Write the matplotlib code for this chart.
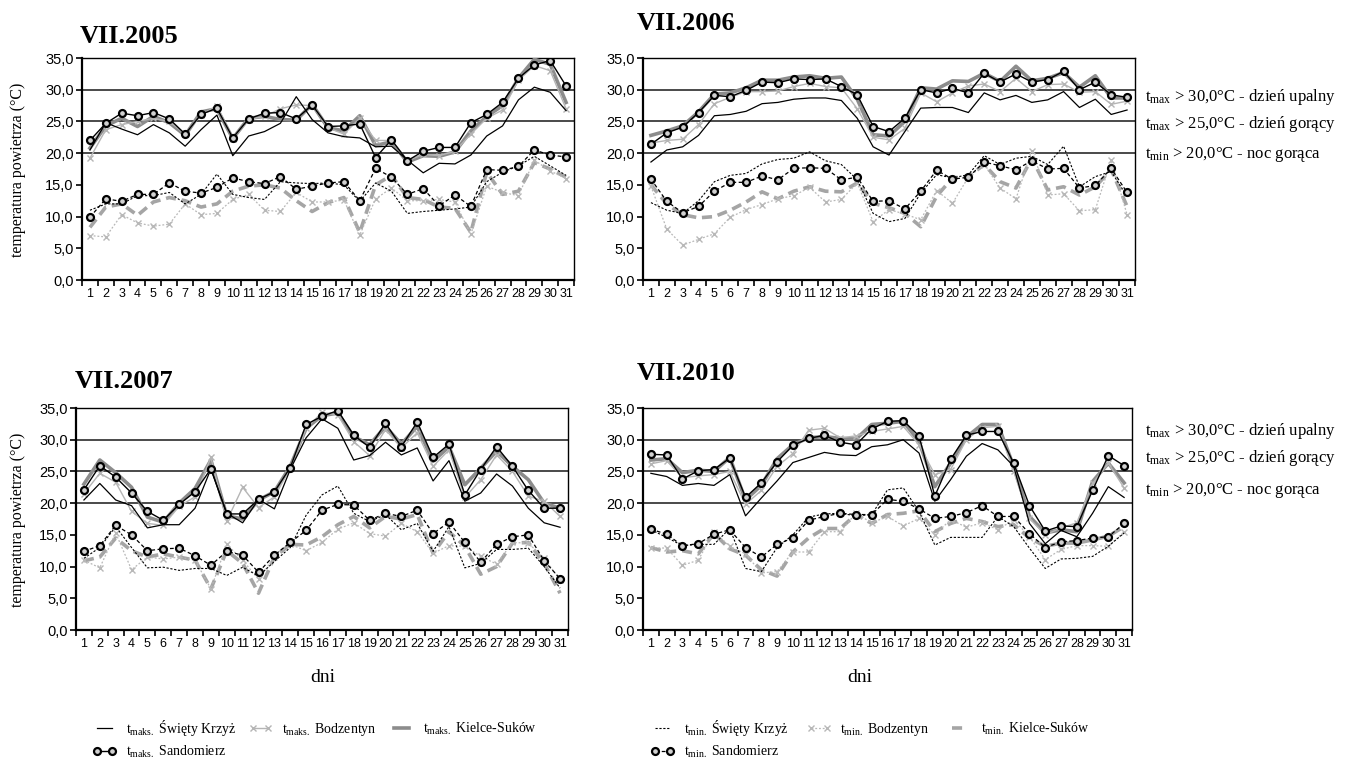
import matplotlib
matplotlib.use('Agg')
import matplotlib.pyplot as plt
from matplotlib.ticker import FuncFormatter
import numpy as np

plt.rcParams['font.family'] = 'Liberation Serif'

days = list(range(1, 32))

# VII.2005
tmax_sk_2005 = [20.5, 24.8, 23.8, 22.9, 24.5, 23.2, 21.1, 23.7, 26.0, 19.6, 22.7, 23.4, 24.7, 28.9, 25.3, 23.2,
                22.6, 22.4, 21.0, 21.1, 18.9, 16.9, 18.4, 18.3, 19.7, 22.7, 24.3, 28.4, 30.4, 29.6, 26.7]
tmax_bo_2005 = [19.2, 23.7, 24.5, 25.0, 25.5, 25.0, 23.0, 26.0, 27.5, 22.3, 25.3, 25.8, 27.0, 27.6, 27.5, 24.0,
                23.0, 25.5, 22.0, 22.0, 18.8, 19.8, 19.6, 20.3, 23.0, 25.5, 26.8, 31.5, 33.8, 33.0, 27.0]
tmax_ks_2005 = [20.8, 24.3, 25.5, 24.2, 25.8, 24.8, 22.8, 26.5, 27.0, 22.3, 25.5, 25.8, 25.3, 25.2, 27.7, 24.0,
                23.5, 25.9, 21.2, 21.8, 18.6, 19.6, 19.5, 20.2, 23.5, 25.8, 27.5, 31.8, 34.8, 34.0, 28.0]
tmax_sa_2005 = [22.0, 24.7, 26.3, 25.9, 26.4, 25.4, 23.0, 26.1, 27.1, 22.4, 25.4, 26.3, 26.4, 25.4, 27.6, 24.2,
                24.3, 24.6, 19.3, 22.1, 18.8, 20.3, 20.9, 20.9, 24.8, 26.1, 28.0, 31.8, 33.9, 34.6, 30.6]
tmin_sk_2005 = [11.0, 12.0, 12.0, 13.3, 13.3, 13.8, 12.0, 13.5, 16.7, 13.5, 13.0, 12.7, 15.5, 15.3, 15.2, 15.3,
                15.0, 12.4, 15.3, 14.0, 10.5, 10.8, 11.0, 11.2, 11.5, 15.5, 17.0, 18.0, 19.5, 18.0, 16.5]
tmin_bo_2005 = [7.0, 6.8, 10.3, 9.0, 8.5, 8.8, 12.0, 10.3, 10.5, 12.7, 13.5, 11.0, 10.8, 13.8, 12.3, 12.3,
                12.6, 7.1, 12.8, 14.5, 12.5, 12.5, 12.7, 12.3, 7.2, 14.8, 13.8, 13.3, 18.9, 17.2, 16.0]
tmin_ks_2005 = [8.3, 11.5, 12.0, 10.2, 12.3, 13.0, 12.5, 11.5, 12.0, 14.0, 14.8, 15.0, 14.5, 12.5, 10.8, 12.2,
                13.0, 7.5, 15.0, 16.5, 13.0, 12.7, 11.5, 11.3, 7.5, 17.0, 13.5, 14.0, 18.5, 17.5, 16.2]
tmin_sa_2005 = [9.9, 12.8, 12.4, 13.5, 13.5, 15.3, 14.0, 13.7, 14.6, 16.1, 15.5, 15.2, 16.3, 14.3, 14.8, 15.3,
                15.5, 12.5, 17.6, 16.2, 13.5, 14.4, 11.7, 13.4, 11.6, 17.4, 17.3, 17.9, 20.5, 19.7, 19.4]

# VII.2006
tmax_sk_2006 = [18.6, 20.5, 21.0, 22.8, 25.9, 26.1, 26.6, 27.8, 28.0, 28.5, 28.7, 28.7, 28.3, 25.5, 21.0, 19.7,
                23.4, 27.1, 27.2, 27.2, 26.4, 29.5, 28.4, 29.1, 28.0, 28.4, 29.7, 27.2, 28.5, 26.1, 26.8]
tmax_bo_2006 = [21.6, 22.0, 22.2, 24.5, 27.8, 28.8, 29.7, 29.7, 29.8, 30.5, 31.0, 30.5, 30.3, 27.0, 22.5, 22.1,
                23.9, 29.5, 28.1, 29.5, 30.6, 30.9, 29.7, 31.8, 29.7, 30.8, 30.9, 29.6, 29.7, 27.7, 28.2]
tmax_ks_2006 = [22.8, 23.5, 24.3, 26.5, 29.3, 29.5, 30.3, 31.5, 31.5, 32.0, 32.2, 31.8, 32.0, 28.5, 22.9, 22.7,
                25.0, 30.3, 30.1, 31.4, 31.3, 32.6, 31.3, 33.7, 31.4, 31.8, 32.7, 30.4, 32.2, 28.7, 28.7]
tmax_sa_2006 = [21.4, 23.2, 24.1, 26.4, 29.1, 28.9, 29.9, 31.2, 31.1, 31.7, 31.6, 31.7, 30.5, 29.2, 24.2, 23.4,
                25.5, 30.0, 29.5, 30.2, 29.5, 32.6, 31.2, 32.5, 31.2, 31.6, 32.9, 30.0, 31.2, 29.2, 28.8]
tmin_sk_2006 = [12.2, 11.0, 10.5, 12.5, 15.5, 16.5, 16.8, 18.3, 19.0, 19.2, 20.2, 18.8, 18.2, 15.8, 10.5, 9.2,
                9.7, 13.7, 16.6, 16.1, 16.6, 19.6, 18.2, 19.2, 19.5, 18.2, 21.1, 14.7, 16.3, 17.1, 13.2]
tmin_bo_2006 = [14.8, 8.0, 5.5, 6.4, 7.3, 9.9, 11.1, 11.9, 12.8, 13.3, 14.6, 12.3, 12.7, 15.3, 9.2, 11.1,
                10.4, 9.5, 14.1, 12.1, 16.2, 18.2, 14.5, 12.8, 20.4, 13.4, 13.6, 10.9, 11.1, 18.9, 10.3]
tmin_ks_2006 = [15.0, 12.0, 10.3, 9.8, 10.0, 11.0, 12.3, 13.9, 12.8, 14.0, 14.7, 14.0, 13.9, 15.3, 12.1, 11.4,
                10.5, 8.4, 13.2, 16.1, 16.3, 18.2, 15.5, 14.5, 19.2, 14.2, 14.7, 13.4, 14.7, 17.4, 11.6]
tmin_sa_2006 = [15.9, 12.4, 10.6, 11.6, 14.0, 15.4, 15.4, 16.4, 15.8, 17.6, 17.7, 17.6, 15.8, 16.2, 12.4, 12.5,
                11.2, 14.0, 17.3, 15.9, 16.2, 18.6, 18.0, 17.4, 18.8, 17.5, 17.6, 14.5, 14.9, 17.6, 13.8]

# VII.2007
tmax_sk_2007 = [20.5, 23.1, 20.5, 19.6, 16.1, 16.6, 16.6, 19.2, 25.4, 18.4, 16.9, 20.6, 19.1, 25.3, 30.3, 33.3,
                31.8, 26.8, 27.5, 29.6, 27.6, 28.7, 23.5, 26.7, 20.3, 21.6, 24.6, 22.7, 19.2, 16.9, 16.2]
tmax_bo_2007 = [21.5, 24.7, 23.3, 18.7, 16.8, 16.5, 19.5, 21.0, 27.2, 17.2, 22.5, 19.3, 21.0, 25.5, 31.8, 34.3,
                33.9, 29.7, 27.5, 31.6, 28.7, 31.1, 25.8, 28.4, 20.9, 23.7, 27.6, 25.0, 21.1, 20.3, 17.9]
tmax_ks_2007 = [23.0, 26.8, 24.8, 22.5, 17.8, 17.0, 20.0, 22.3, 26.8, 18.0, 17.5, 20.5, 21.8, 25.8, 31.8, 33.8,
                34.2, 30.5, 29.2, 32.1, 29.3, 32.1, 26.6, 28.9, 22.9, 25.5, 28.2, 25.8, 23.7, 20.0, 19.2]
tmax_sa_2007 = [22.1, 25.9, 24.1, 21.6, 18.7, 17.3, 19.8, 21.8, 25.4, 18.3, 18.3, 20.6, 21.8, 25.6, 32.4, 33.7,
                34.6, 30.7, 28.8, 32.6, 28.9, 32.8, 27.2, 29.3, 21.3, 25.3, 28.9, 25.8, 22.0, 19.2, 19.2]
tmin_sk_2007 = [11.3, 13.0, 16.3, 13.0, 9.8, 9.9, 9.4, 9.7, 9.7, 8.6, 9.9, 8.5, 10.8, 13.0, 18.1, 21.3,
                22.7, 18.4, 17.1, 18.2, 15.8, 16.8, 12.4, 16.3, 9.8, 10.5, 12.7, 12.7, 12.9, 10.0, 6.6]
tmin_bo_2007 = [11.0, 9.8, 15.3, 9.5, 11.5, 11.2, 11.5, 11.0, 6.5, 13.5, 11.0, 8.0, 11.5, 13.5, 12.5, 13.8,
                15.9, 16.9, 15.2, 14.8, 16.8, 15.5, 12.1, 13.3, 13.2, 11.6, 10.4, 13.8, 13.7, 11.3, 7.9]
tmin_ks_2007 = [10.9, 11.5, 14.5, 12.5, 11.5, 12.0, 11.5, 11.0, 6.5, 12.5, 10.5, 5.8, 11.5, 13.5, 13.4, 14.7,
                16.6, 17.9, 16.1, 17.9, 17.5, 18.2, 12.1, 15.5, 13.2, 8.8, 10.0, 13.7, 13.8, 10.5, 5.8]
tmin_sa_2007 = [12.4, 13.3, 16.5, 15.0, 12.5, 12.8, 12.9, 11.7, 10.2, 12.4, 11.8, 9.1, 11.8, 13.8, 15.7, 18.9,
                19.8, 19.7, 17.3, 18.4, 17.9, 18.9, 15.2, 17.0, 13.8, 10.7, 13.5, 14.7, 15.0, 10.9, 8.1]

# VII.2010
tmax_sk_2010 = [24.7, 24.2, 22.8, 23.1, 22.8, 24.5, 18.0, 20.8, 23.5, 26.4, 27.2, 28.0, 27.6, 27.5, 28.9, 29.2,
                30.0, 27.9, 20.3, 23.7, 27.4, 29.4, 28.4, 25.8, 16.8, 13.6, 15.7, 14.7, 18.4, 22.6, 20.9]
tmax_bo_2010 = [26.2, 26.7, 24.0, 24.3, 24.5, 25.0, 19.8, 22.0, 25.8, 27.8, 31.5, 31.8, 30.3, 30.6, 31.3, 31.7,
                32.1, 29.2, 24.5, 25.3, 30.0, 31.9, 32.1, 25.0, 17.6, 15.0, 16.1, 16.9, 23.1, 26.3, 22.4]
tmax_ks_2010 = [26.8, 27.0, 24.8, 25.2, 25.0, 27.2, 20.5, 22.8, 27.0, 29.2, 30.3, 30.5, 30.2, 30.1, 32.4, 32.6,
                32.9, 29.7, 22.6, 26.3, 30.4, 32.4, 32.4, 25.8, 17.9, 15.3, 15.8, 15.5, 23.4, 26.3, 23.2]
tmax_sa_2010 = [27.7, 27.6, 23.8, 25.1, 25.3, 27.1, 20.9, 23.2, 26.5, 29.1, 30.2, 30.7, 29.6, 29.2, 31.7, 32.9,
                33.0, 30.6, 21.1, 26.9, 30.7, 31.3, 31.3, 26.3, 19.6, 15.6, 16.4, 16.3, 22.0, 27.5, 25.9]
tmin_sk_2010 = [15.8, 14.6, 13.3, 13.5, 13.5, 16.0, 9.7, 9.2, 13.0, 15.0, 17.8, 18.3, 18.4, 18.0, 18.2, 22.1,
                22.4, 18.7, 13.4, 14.6, 14.6, 14.6, 17.9, 16.3, 12.9, 9.7, 11.2, 11.3, 11.6, 13.2, 15.3]
tmin_bo_2010 = [13.0, 12.9, 10.2, 11.0, 15.5, 13.2, 12.0, 9.0, 9.2, 12.3, 12.3, 15.5, 15.5, 18.4, 16.9, 17.9,
                16.4, 17.6, 15.0, 17.4, 16.2, 16.9, 15.8, 17.4, 14.7, 11.1, 12.7, 13.3, 13.3, 13.2, 15.5]
tmin_ks_2010 = [13.0, 12.3, 12.5, 12.0, 15.2, 12.8, 11.8, 9.5, 8.5, 12.3, 14.5, 16.0, 16.0, 18.2, 16.8, 18.2,
                18.4, 18.8, 15.5, 16.8, 17.6, 17.1, 16.3, 16.6, 14.5, 13.2, 13.7, 13.7, 14.2, 14.8, 16.3]
tmin_sa_2010 = [15.9, 15.1, 13.3, 13.6, 15.1, 15.8, 13.0, 11.5, 13.5, 14.5, 17.3, 17.9, 18.4, 18.2, 18.2, 20.6,
                20.3, 19.1, 17.6, 17.9, 18.5, 19.6, 17.9, 17.9, 15.2, 13.0, 13.9, 14.1, 14.5, 14.7, 16.8]

thresholds = [20, 25, 30]
threshold_labels = ['$\\mathregular{t_{max}}$ > 30,0°C - dzień upalny',
                    '$\\mathregular{t_{max}}$ > 25,0°C - dzień gorący',
                    '$\\mathregular{t_{min}}$ > 20,0°C - noc gorąca']

# line styles, in drawing order
styles = {
    'tmax_ks': dict(color='#8c8c8c', lw=2.6, label='$\\mathregular{t_{maks.}}$ Kielce-Suków'),
    'tmax_bo': dict(color='#b5b5b5', lw=1.0, marker='x', ms=4.5, mew=1.0,
                    label='$\\mathregular{t_{maks.}}$ Bodzentyn'),
    'tmax_sk': dict(color='black', lw=0.9, label='$\\mathregular{t_{maks.}}$ Święty Krzyż'),
    'tmax_sa': dict(color='black', lw=1.0, marker='o', ms=5, mfc='#d0d0d0', mec='black', mew=1.6,
                    label='$\\mathregular{t_{maks.}}$ Sandomierz'),
    'tmin_ks': dict(color='#a5a5a5', lw=2.6, ls=(0, (2.8, 1.6)), label='$\\mathregular{t_{min.}}$ Kielce-Suków'),
    'tmin_bo': dict(color='#b8b8b8', lw=0.9, ls=(0, (1.5, 1.5)), marker='x', ms=4.5, mew=1.0,
                    label='$\\mathregular{t_{min.}}$ Bodzentyn'),
    'tmin_sk': dict(color='black', lw=0.8, ls=(0, (2, 1.5)), label='$\\mathregular{t_{min.}}$ Święty Krzyż'),
    'tmin_sa': dict(color='black', lw=0.9, ls=(0, (3, 2)), marker='o', ms=5, mfc='#d0d0d0', mec='black',
                    mew=1.6, label='$\\mathregular{t_{min.}}$ Sandomierz'),
}

panels = [
    ('VII.2005', {'tmax_sk': tmax_sk_2005, 'tmax_bo': tmax_bo_2005, 'tmax_ks': tmax_ks_2005, 'tmax_sa': tmax_sa_2005,
                  'tmin_sk': tmin_sk_2005, 'tmin_bo': tmin_bo_2005, 'tmin_ks': tmin_ks_2005, 'tmin_sa': tmin_sa_2005}),
    ('VII.2006', {'tmax_sk': tmax_sk_2006, 'tmax_bo': tmax_bo_2006, 'tmax_ks': tmax_ks_2006, 'tmax_sa': tmax_sa_2006,
                  'tmin_sk': tmin_sk_2006, 'tmin_bo': tmin_bo_2006, 'tmin_ks': tmin_ks_2006, 'tmin_sa': tmin_sa_2006}),
    ('VII.2007', {'tmax_sk': tmax_sk_2007, 'tmax_bo': tmax_bo_2007, 'tmax_ks': tmax_ks_2007, 'tmax_sa': tmax_sa_2007,
                  'tmin_sk': tmin_sk_2007, 'tmin_bo': tmin_bo_2007, 'tmin_ks': tmin_ks_2007, 'tmin_sa': tmin_sa_2007}),
    ('VII.2010', {'tmax_sk': tmax_sk_2010, 'tmax_bo': tmax_bo_2010, 'tmax_ks': tmax_ks_2010, 'tmax_sa': tmax_sa_2010,
                  'tmin_sk': tmin_sk_2010, 'tmin_bo': tmin_bo_2010, 'tmin_ks': tmin_ks_2010, 'tmin_sa': tmin_sa_2010}),
]

W, H = 1355, 760


def px_box(left, top, right, bottom):
    return [left / W, 1 - bottom / H, (right - left) / W, (bottom - top) / H]


def draw_panel(ax, series):
    handles = {}
    for v in thresholds:
        ax.axhline(v, color='#3c3c3c', lw=1.3, zorder=1)
    for key in ['tmin_ks', 'tmin_bo', 'tmin_sk', 'tmin_sa', 'tmax_ks', 'tmax_bo', 'tmax_sk', 'tmax_sa']:
        line, = ax.plot(days, series[key], zorder=3, **styles[key])
        handles[key] = line
    ax.set_xlim(0.5, 31.5)
    ax.set_ylim(0, 35)
    ax.set_yticks(np.arange(0, 36, 5))
    ax.yaxis.set_major_formatter(FuncFormatter(lambda v, p: f'{v:.1f}'.replace('.', ',')))
    ax.set_xticks(np.arange(0.5, 32, 1))
    ax.set_xticklabels([])
    ax.set_xticks(days, minor=True)
    ax.set_xticklabels([str(d) for d in days], minor=True)
    ax.tick_params(axis='x', which='major', direction='out', length=4, width=1.2)
    ax.tick_params(axis='x', which='minor', length=0, pad=6, labelsize=9, labelfontfamily='Liberation Sans')
    ax.tick_params(axis='y', direction='out', length=4, width=1.2, pad=2, labelsize=10.5,
                   labelfontfamily='Liberation Sans')
    for side in ['left', 'bottom']:
        ax.spines[side].set_linewidth(1.6)
    for side in ['top', 'right']:
        ax.spines[side].set_linewidth(1.0)
    return handles


fig = plt.figure(figsize=(W / 100, H / 100), dpi=100)

boxes = [px_box(82, 58, 574, 280), px_box(643, 58, 1135, 280),
         px_box(76, 408, 568, 630), px_box(643, 408, 1132, 630)]
title_pos = [(80, 43), (637, 30), (75, 388), (637, 380)]

all_handles = None
for (title, series), box, tpos in zip(panels, boxes, title_pos):
    ax = fig.add_axes(box)
    all_handles = draw_panel(ax, series)
    fig.text(tpos[0] / W, 1 - tpos[1] / H, title, fontsize=19, fontweight='bold', va='baseline')

for yc in [170, 520]:
    fig.text(18 / W, 1 - yc / H, 'temperatura powietrza (°C)', rotation=90, ha='center', va='center', fontsize=11.5)

for xc in [323, 860]:
    fig.text(xc / W, 1 - 677 / H, 'dni', ha='center', va='center', fontsize=14)

for ys in [(97, 124, 155), (431, 458, 490)]:
    for y, txt in zip(ys, threshold_labels):
        fig.text(1145 / W, 1 - y / H, txt, va='center', fontsize=12)

leg_kw = dict(ncol=3, frameon=False, fontsize=10, numpoints=2, handlelength=1.7, handletextpad=0.7,
              columnspacing=0.9, labelspacing=0.45, borderpad=0, loc='upper left')
h = all_handles
fig.legend([h['tmax_sk'], h['tmax_sa'], h['tmax_bo'], h['tmax_ks']],
           [h['tmax_sk'].get_label(), h['tmax_sa'].get_label(), h['tmax_bo'].get_label(), h['tmax_ks'].get_label()],
           bbox_to_anchor=(86 / W, 1 - 711 / H), **leg_kw)
leg_kw['columnspacing'] = 1.3
fig.legend([h['tmin_sk'], h['tmin_sa'], h['tmin_bo'], h['tmin_ks']],
           [h['tmin_sk'].get_label(), h['tmin_sa'].get_label(), h['tmin_bo'].get_label(), h['tmin_ks'].get_label()],
           bbox_to_anchor=(644 / W, 1 - 711 / H), **leg_kw)

fig.savefig('out.png', dpi=100)
